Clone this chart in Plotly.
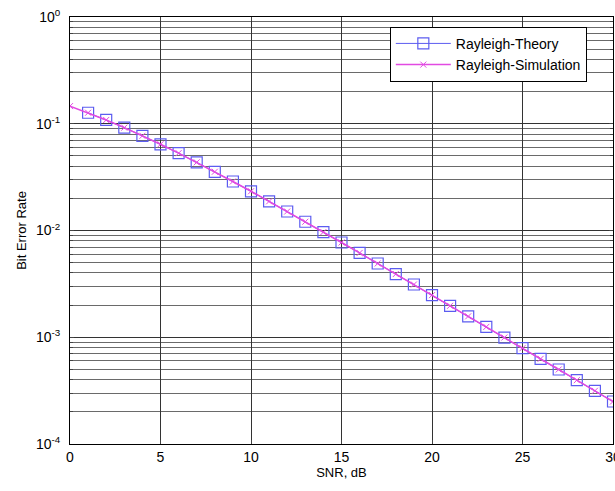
import plotly.graph_objects as go

snr_theory = list(range(1, 31))
ber_theory = [0.12673, 0.10849, 0.09191, 0.07714, 0.06418, 0.05300, 0.04348, 0.03546,
              0.02878, 0.02327, 0.01875, 0.01506, 0.01208, 0.00967, 0.00772, 0.00616,
              0.00491, 0.00391, 0.00312, 0.00248, 0.00197, 0.00157, 0.00125, 0.000994,
              0.000790, 0.000628, 0.000499, 0.000396, 0.000315, 0.000250]

snr_sim = list(range(0, 31))
ber_sim = [0.1464, 0.1268, 0.1085, 0.0919, 0.0771, 0.0642, 0.0530, 0.0435, 0.0355,
           0.0288, 0.0233, 0.01875, 0.01506, 0.01208, 0.00967, 0.00772, 0.00616,
           0.00491, 0.00391, 0.00312, 0.00248, 0.00197, 0.00157, 0.00125, 0.000994,
           0.000790, 0.000628, 0.000499, 0.000396, 0.000315, 0.000250]

y_ticks = [1e-4, 1e-3, 1e-2, 1e-1, 1]
y_ticktext = ["10<sup>-4</sup>", "10<sup>-3</sup>", "10<sup>-2</sup>", "10<sup>-1</sup>", "10<sup>0</sup>"]
x_ticks = [0, 5, 10, 15, 20, 25, 30]

minor_vals = [m * 10 ** e for e in range(-4, 0) for m in range(2, 10)]

blue = "#5c5cf0"
pink = "#e24ae2"

fig = go.Figure()
fig.add_trace(go.Scatter(
    x=snr_theory, y=ber_theory, mode="lines+markers", name="Rayleigh-Theory",
    line=dict(color=blue, width=1),
    marker=dict(symbol="square-open", size=11, color=blue, line=dict(width=1.2, color=blue)),
))
fig.add_trace(go.Scatter(
    x=snr_sim, y=ber_sim, mode="lines+markers", name="Rayleigh-Simulation",
    line=dict(color=pink, width=1.5),
    marker=dict(symbol="x-thin-open", size=6, color=pink, line=dict(width=1, color=pink)),
))

font = "Liberation Sans, Arial, sans-serif"
fig.update_layout(
    width=615, height=491,
    margin=dict(l=70, r=2, t=17, b=47),
    paper_bgcolor="white", plot_bgcolor="white",
    font=dict(family=font, size=14, color="black"),
    showlegend=True,
    legend=dict(x=0.589, y=0.977, xanchor="left", yanchor="top",
                bgcolor="white", bordercolor="black", borderwidth=1,
                font=dict(size=14), itemwidth=55, tracegroupgap=0),
    xaxis=dict(
        range=[0, 30], tickvals=x_ticks, ticks="inside", ticklen=4,
        showline=True, linecolor="black", linewidth=1, mirror="ticks",
        showgrid=True, gridcolor="#333333", gridwidth=1, zeroline=False,
        title=dict(text="SNR, dB", font=dict(size=13), standoff=4),
        automargin=False, tickfont=dict(size=14), ticklabeloverflow="allow",
    ),
    yaxis=dict(
        type="log", range=[-4, 0], tickvals=y_ticks, ticktext=y_ticktext,
        ticks="inside", ticklen=4, ticklabelstandoff=6,
        showline=True, linecolor="black", linewidth=1, mirror="ticks",
        showgrid=True, gridcolor="#333333", gridwidth=1, zeroline=False,
        minor=dict(tickvals=minor_vals, ticks="inside", ticklen=3, showgrid=True,
                   gridcolor="#6a6a6a", gridwidth=1),
        title=dict(text="Bit Error Rate", font=dict(size=13), standoff=6),
        automargin=False, tickfont=dict(size=14), ticklabeloverflow="allow",
    ),
)

fig.write_html("out.html", config={"displayModeBar": False},
               post_script="document.body.style.margin='0';document.body.style.overflow='hidden';")
